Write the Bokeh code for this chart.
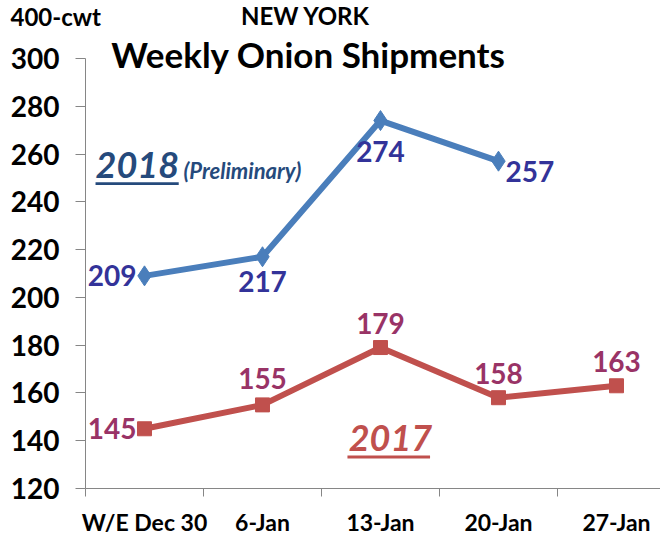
from bokeh.plotting import figure
from bokeh.layouts import column
from bokeh.models import Range1d, FixedTicker, Label, BoxAnnotation
from bokeh.embed import file_html
from bokeh.resources import INLINE

# ---- data ----
categories = ["W/E Dec 30", "6-Jan", "13-Jan", "20-Jan", "27-Jan"]
values_2018 = [209, 217, 274, 257]
values_2017 = [145, 155, 179, 158, 163]
y_ticks = [120, 140, 160, 180, 200, 220, 240, 260, 280, 300]

FONT = "Lato"

# ---- header strip ----
top = figure(width=660, height=30, output_backend="svg", toolbar_location=None,
             x_range=Range1d(0, 660), y_range=Range1d(0, 30),
             x_axis_location=None, y_axis_location=None, min_border=0)
top.frame_align = False
top.outline_line_color = None
top.xgrid.visible = False
top.ygrid.visible = False
top.add_layout(Label(x=10, y=14, text="400-cwt", text_align="left", text_baseline="middle",
                     text_font=FONT, text_font_style="bold", text_font_size="24px", text_color="black"))
top.add_layout(Label(x=305, y=15, text="NEW YORK", text_align="center", text_baseline="middle",
                     text_font=FONT, text_font_style="bold", text_font_size="24px", text_color="black"))

# ---- main chart ----
p = figure(width=660, height=508, output_backend="svg", toolbar_location=None,
           x_range=Range1d(0, 4.873), y_range=Range1d(120, 311.7),
           min_border_left=85, min_border_right=0, min_border_top=0, min_border_bottom=50)
p.frame_align = False
p.outline_line_color = None
p.xgrid.visible = False
p.ygrid.visible = False

centers = [i + 0.5 for i in range(len(categories))]
bounds = [i for i in range(len(categories) + 1)]

xa = p.xaxis[0]
xa.ticker = FixedTicker(ticks=centers, minor_ticks=bounds)
xa.major_label_overrides = {c: lab for c, lab in zip(centers, categories)}
xa.major_tick_out = 0
xa.major_tick_in = 0
xa.minor_tick_out = 8
xa.minor_tick_in = 0
xa.minor_tick_line_color = "#868686"
xa.axis_line_color = "#868686"
xa.major_label_text_font = FONT
xa.major_label_text_font_style = "bold"
xa.major_label_text_font_size = "23px"
xa.major_label_text_color = "black"
xa.major_label_standoff = 11
xa.major_label_text_line_height = 1.0

ya = p.yaxis[0]
ya.ticker = FixedTicker(ticks=y_ticks, minor_ticks=[])
ya.bounds = (120, 300)
ya.major_tick_out = 10
ya.major_tick_in = 0
ya.major_tick_line_color = "#868686"
ya.axis_line_color = "#868686"
ya.major_label_text_font = FONT
ya.major_label_text_font_style = "bold"
ya.major_label_text_font_size = "28px"
ya.major_label_text_color = "black"
ya.major_label_standoff = 16

x18 = centers[:len(values_2018)]
x17 = centers[:len(values_2017)]

BLUE = "#4A7EBB"
RED = "#C0504D"
p.line(x18, values_2018, line_color=BLUE, line_width=6)
p.scatter(x18, values_2018, marker="diamond", size=20, color=BLUE)
p.line(x17, values_2017, line_color=RED, line_width=6)
p.scatter(x17, values_2017, marker="square", size=14, color=RED)

# data labels (pixel offsets are styling)
off18 = [(-8, 0, "right", "middle"), (0, -14, "center", "top"), (0, -20, "center", "top"), (7, -10, "left", "middle")]
for x, v, (dx, dy, al, bl) in zip(x18, values_2018, off18):
    p.add_layout(Label(x=x, y=v, x_offset=dx, y_offset=dy, text=str(v), text_align=al, text_baseline=bl,
                       text_font=FONT, text_font_style="bold", text_font_size="28px", text_color="#333399"))
off17 = [(-8, 0, "right", "middle"), (0, 16, "center", "bottom"), (0, 14, "center", "bottom"), (0, 14, "center", "bottom"), (0, 14, "center", "bottom")]
for x, v, (dx, dy, al, bl) in zip(x17, values_2017, off17):
    p.add_layout(Label(x=x, y=v, x_offset=dx, y_offset=dy, text=str(v), text_align=al, text_baseline=bl,
                       text_font=FONT, text_font_style="bold", text_font_size="28px", text_color="#993366"))

# series captions
p.add_layout(Label(x=0.085, y=255.2, text="2018", text_baseline="middle", text_font=FONT,
                   text_font_style="bold italic", text_font_size="36px", text_color="#254A7C"))
p.add_layout(BoxAnnotation(left=0.085, right=0.79, bottom=247.0, top=248.2, fill_color="#254A7C",
                           fill_alpha=1, line_color=None))
p.add_layout(Label(x=0.83, y=253.1, text="(Preliminary)", text_baseline="middle", text_font=FONT,
                   text_font_style="bold italic", text_font_size="22px", text_color="#254A7C"))
p.add_layout(Label(x=2.23, y=141.3, text="2017", text_baseline="middle", text_font=FONT,
                   text_font_style="bold italic", text_font_size="36px", text_color=RED))
p.add_layout(BoxAnnotation(left=2.22, right=2.92, bottom=132.6, top=133.8, fill_color=RED,
                           fill_alpha=1, line_color=None))

p.add_layout(Label(x=1.89, y=301.8, text="Weekly Onion Shipments", text_align="center", text_baseline="middle",
                   text_font=FONT, text_font_style="bold", text_font_size="35px", text_color="black"))

layout = column(top, p, spacing=0)
open("out.html", "w").write(file_html(layout, INLINE))
